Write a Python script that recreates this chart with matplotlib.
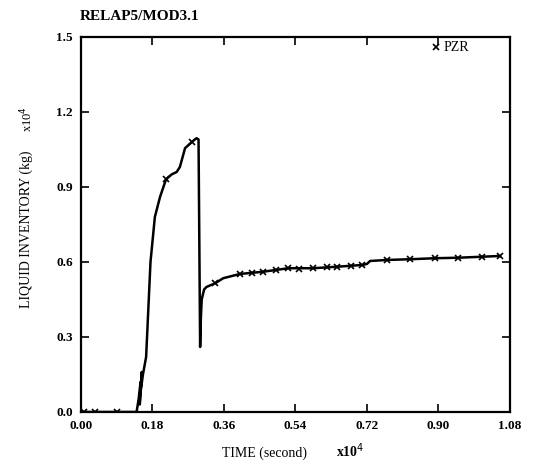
import matplotlib
matplotlib.use("Agg")
import matplotlib.pyplot as plt

# Data (x in 1e4 s, y in 1e4 kg)
time = [0.0, 0.05, 0.10, 0.140, 0.145, 0.150, 0.148, 0.153, 0.150, 0.156, 0.164, 0.175, 0.186,
        0.199, 0.214, 0.228, 0.241, 0.249, 0.262, 0.279, 0.291, 0.296, 0.300, 0.302,
        0.304, 0.310, 0.316, 0.338, 0.358, 0.400, 0.459, 0.522, 0.585, 0.645,
        0.708, 0.720, 0.728, 0.770, 0.829, 0.892, 0.950, 1.010, 1.055]
inventory = [0.0, 0.0, 0.0, 0.0, 0.05, 0.12, 0.03, 0.16, 0.08, 0.15, 0.22, 0.60, 0.78,
             0.86, 0.93, 0.95, 0.96, 0.98, 1.055, 1.08, 1.095, 1.09, 0.26, 0.38,
             0.45, 0.49, 0.50, 0.515, 0.535, 0.552, 0.561, 0.575, 0.575, 0.581,
             0.588, 0.592, 0.604, 0.608, 0.611, 0.615, 0.617, 0.621, 0.624]

marker_time = [0.008, 0.035, 0.09, 0.214, 0.279, 0.338, 0.40, 0.43, 0.459, 0.49, 0.522,
               0.55, 0.585, 0.62, 0.645, 0.68, 0.708, 0.77, 0.829, 0.892, 0.95, 1.01, 1.055]
marker_inv = [0.0, 0.0, 0.0, 0.93, 1.08, 0.515, 0.552, 0.556, 0.561, 0.567, 0.575,
              0.572, 0.575, 0.578, 0.581, 0.583, 0.588, 0.608, 0.611, 0.615, 0.617, 0.621, 0.624]

xticks = [0.00, 0.18, 0.36, 0.54, 0.72, 0.90, 1.08]
xticklabels = ["0.00", "0.18", "0.36", "0.54", "0.72", "0.90", "1.08"]
yticks = [0.0, 0.3, 0.6, 0.9, 1.2, 1.5]
yticklabels = ["0.0", "0.3", "0.6", "0.9", "1.2", "1.5"]

plt.rcParams['font.family'] = ['Liberation Serif', 'DejaVu Serif']

fig = plt.figure(figsize=(5.35, 4.68), dpi=100)
ax = fig.add_axes([0.1514, 0.1197, 0.8016, 0.8013])

ax.plot(time, inventory, color='black', lw=1.8)
ax.plot(marker_time, marker_inv, linestyle='none', marker='x', color='black',
        markersize=5, mew=1.2)

ax.set_xlim(0, 1.08)
ax.set_ylim(0, 1.5)
ax.set_xticks(xticks)
ax.set_xticklabels(xticklabels, fontsize=9.5, fontweight='bold')
ax.set_yticks(yticks)
ax.set_yticklabels(yticklabels, fontsize=9.5, fontweight='bold')
ax.tick_params(direction='in', top=True, right=True, length=6, width=1.2)
ax.tick_params(axis='x', pad=6)
ax.tick_params(axis='y', pad=6)
for s in ax.spines.values():
    s.set_linewidth(1.6)

# legend
ax.plot([0.895], [1.458], linestyle='none', marker='x', color='black', markersize=5, mew=1.2)
ax.text(0.912, 1.458, "PZR", fontsize=10, va='center', ha='left')

fig.text(0.15, 0.965, "RELAP5/MOD3.1", fontsize=11, fontweight='bold', ha='left', va='center')
fig.text(0.495, 0.018, "TIME (second)", fontsize=10, ha='center', va='bottom')
fig.text(0.655, 0.018, "x10$^4$", fontsize=10, fontweight='bold', ha='center', va='bottom')
fig.text(0.05, 0.51, "LIQUID INVENTORY (kg)", fontsize=10, rotation=90, ha='center', va='center')
fig.text(0.05, 0.745, "x10$^4$", fontsize=9, rotation=90, ha='center', va='center')

fig.savefig("out.png", dpi=100)
